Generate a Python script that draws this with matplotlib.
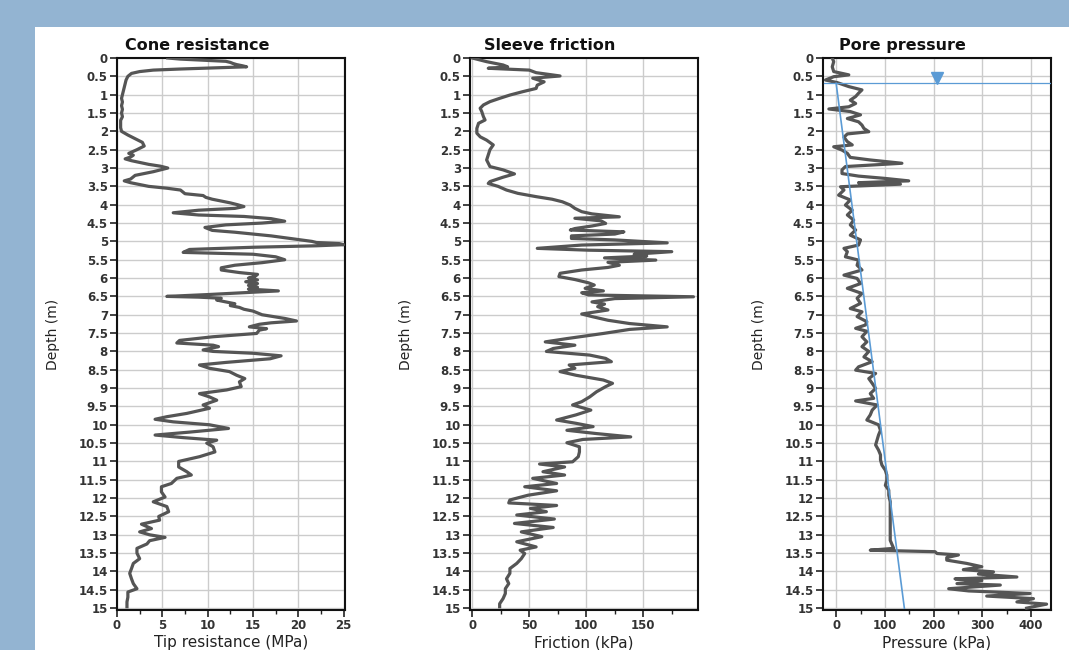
import numpy as np
import matplotlib.pyplot as plt
from matplotlib.patches import Rectangle
from matplotlib.ticker import MultipleLocator, FuncFormatter

# ── data ─────────────────────────────────────────────────────────────────────
cone_depth = [0.0, 0.03, 0.06, 0.09, 0.12, 0.15, 0.18, 0.21, 0.24, 0.27, 0.30, 0.33, 0.37, 0.42,
              0.5, 0.6, 0.7, 0.8, 0.9, 1.0, 1.1, 1.2, 1.3, 1.4, 1.5, 1.6, 1.7, 1.8, 1.9, 2.0,
              2.1, 2.2, 2.3, 2.4, 2.5, 2.6, 2.65, 2.7, 2.75, 2.8, 2.9, 2.95, 3.0, 3.1, 3.2, 3.3,
              3.35, 3.4, 3.5, 3.55, 3.6, 3.7, 3.75, 3.8, 3.85, 3.9, 3.95, 4.0, 4.05, 4.1, 4.15,
              4.22, 4.28, 4.32, 4.38, 4.45, 4.5, 4.55, 4.62, 4.7, 4.75, 4.8, 4.85, 4.9, 4.95,
              5.0, 5.03, 5.06, 5.09, 5.12, 5.16, 5.22, 5.3, 5.35, 5.42, 5.5, 5.58, 5.65, 5.72,
              5.78, 5.85, 5.9, 5.96, 6.0, 6.05, 6.1, 6.15, 6.2, 6.25, 6.3, 6.35, 6.4, 6.45, 6.5,
              6.52, 6.55, 6.6, 6.65, 6.7, 6.75, 6.8, 6.85, 6.9, 6.95, 7.0, 7.1, 7.17, 7.22, 7.26,
              7.33, 7.38, 7.42, 7.51, 7.6, 7.7, 7.77, 7.83, 7.87, 7.96, 8.0, 8.05, 8.12, 8.2,
              8.3, 8.37, 8.46, 8.55, 8.65, 8.74, 8.83, 8.96, 9.05, 9.15, 9.24, 9.33, 9.46, 9.55,
              9.69, 9.78, 9.85, 9.92, 10.0, 10.1, 10.2, 10.28, 10.35, 10.42, 10.5, 10.6, 10.74,
              10.87, 11.0, 11.15, 11.28, 11.37, 11.46, 11.6, 11.69, 11.83, 11.97, 12.1, 12.23,
              12.37, 12.5, 12.6, 12.71, 12.83, 12.92, 13.0, 13.07, 13.16, 13.25, 13.37, 13.5,
              13.65, 13.78, 13.92, 14.05, 14.2, 14.33, 14.47, 14.56, 14.7, 14.83, 14.96]
cone_tip = [5.6, 7, 9.5, 12, 12.5, 12.8, 13.2, 13.8, 14.3, 10.5, 7, 4, 2.5, 1.6,
            1.2, 1.0, 0.9, 0.8, 0.7, 0.6, 0.5, 0.6, 0.5, 0.6, 0.5, 0.6, 0.4, 0.4, 0.4, 0.5,
            1.2, 2.0, 2.8, 3.0, 2.2, 1.3, 1.8, 1.5, 0.9, 1.6, 3.5, 4.8, 5.6, 4.0, 2.0, 1.5,
            0.8, 1.5, 3.5, 5.5, 7.0, 7.5, 9.5, 9.8, 10.5, 11.5, 12.5, 13.3, 14.0, 13.0, 9.0,
            6.2, 9.0, 14.0, 17.0, 18.5, 16.0, 12.0, 9.7, 10.5, 13, 15, 17, 18.5, 20,
            21.5, 22, 24.5, 25, 22, 15, 8, 7.3, 15, 17.5, 18.5, 16, 13, 11.5,
            11.5, 13.5, 15.5, 15.2, 14.5, 15.5, 14.2, 15.5, 14.5, 15.5, 14.5, 17.8, 14, 10, 5.5,
            9, 11.5, 11, 12, 13, 12.5, 13.5, 14, 15, 15.5, 16, 18.5, 19.8, 17, 15.7,
            14.6, 16.5, 15.7, 15.4, 10.6, 6.9, 6.6, 10.6, 11.2, 9.5, 10.6, 15, 18.1, 16.9,
            12, 9.1, 10.2, 12.4, 13.2, 14.1, 13.5, 13.7, 12.1, 9.1, 10.2, 11.0, 9.5, 10.2,
            7.7, 5.5, 4.2, 6.2, 10.2, 12.3, 8.0, 4.2, 7.3, 11.0, 9.9, 10.6, 10.8,
            9.1, 6.8, 6.8, 7.7, 8.2, 6.6, 6.0, 4.9, 4.9, 5.3, 4.0, 5.5,
            5.7, 4.6, 4.7, 2.7, 3.8, 2.5, 3.6, 5.3, 3.6, 3.3, 2.2, 2.2,
            2.5, 1.8, 1.6, 1.4, 1.6, 1.8, 2.2, 1.2, 1.2, 1.1, 1.1]

fric_depth = [0.0, 0.1, 0.19, 0.24, 0.28, 0.33, 0.4, 0.49, 0.55, 0.65, 0.74, 0.83, 0.92, 1.01,
              1.1, 1.19, 1.28, 1.37, 1.46, 1.6, 1.69, 1.78, 1.92, 2.05, 2.15, 2.24, 2.37, 2.5,
              2.65, 2.78, 2.87, 2.96, 3.05, 3.16, 3.25, 3.37, 3.42, 3.5, 3.6, 3.69, 3.78, 3.85,
              3.92, 4.01, 4.1, 4.19, 4.25, 4.33, 4.37, 4.44, 4.51, 4.58, 4.65, 4.69, 4.74, 4.8,
              4.85, 4.92, 4.96, 5.04, 5.1, 5.19, 5.24, 5.28, 5.35, 5.4, 5.45, 5.51, 5.57, 5.65,
              5.71, 5.78, 5.87, 5.96, 6.04, 6.13, 6.19, 6.28, 6.35, 6.4, 6.46, 6.51, 6.56, 6.65,
              6.71, 6.78, 6.87, 6.98, 7.05, 7.15, 7.24, 7.33, 7.4, 7.51, 7.65, 7.74, 7.83, 7.92,
              8.0, 8.1, 8.19, 8.28, 8.37, 8.46, 8.55, 8.65, 8.78, 8.87, 8.96, 9.1, 9.24, 9.37,
              9.46, 9.6, 9.73, 9.87, 9.96, 10.05, 10.15, 10.24, 10.33, 10.4, 10.49, 10.6, 10.74,
              10.87, 11.01, 11.07, 11.15, 11.28, 11.37, 11.46, 11.6, 11.69, 11.8, 11.92, 12.05,
              12.13, 12.2, 12.28, 12.37, 12.46, 12.57, 12.69, 12.8, 12.92, 13.05, 13.19, 13.33,
              13.42, 13.51, 13.65, 13.78, 13.92, 14.05, 14.2, 14.33, 14.47, 14.6, 14.74, 14.88,
              14.96]
fric_kpa = [0, 12.6, 27, 31, 14, 50, 56, 77, 53, 63, 57, 56, 44, 33,
            24, 15.5, 9.8, 6.9, 8.3, 9.8, 11.2, 5.5, 4, 4, 7, 12.6, 18.4, 15.5,
            14, 12.6, 14, 15.5, 27, 37, 27, 15.5, 14, 22.7, 30, 40, 56, 70,
            79, 86, 90, 96, 105, 129, 90, 113, 117, 105, 90, 86, 133, 125,
            87, 87, 125, 171, 96, 57, 102, 175, 142, 153, 116, 161, 119, 129,
            119, 96, 77, 76, 90, 102, 107, 99, 115, 96, 102, 194, 125, 105,
            116, 110, 119, 96, 105, 119, 138, 171, 138, 115, 83, 64, 90, 71,
            65, 103, 117, 122, 85, 90, 77, 91, 115, 123, 117, 109, 103, 96,
            88, 104, 91, 74, 91, 106, 83, 109, 139, 97, 83, 94, 94,
            93, 88, 59, 81, 62, 81, 53, 74, 46, 74, 49, 33,
            32, 74, 51, 65, 39, 72, 37, 71, 43, 61, 39, 56,
            42, 46, 43, 39, 33, 33, 30, 32, 29, 29, 27, 24,
            24]

pore_depth = [0.0, 0.1, 0.24, 0.37, 0.46, 0.51, 0.6, 0.67, 0.78, 0.87, 0.96, 1.05, 1.15, 1.24,
              1.33, 1.39, 1.46, 1.55, 1.65, 1.74, 1.83, 1.92, 2.01, 2.07, 2.16, 2.28, 2.37, 2.42,
              2.51, 2.6, 2.71, 2.78, 2.87, 2.96, 3.05, 3.15, 3.22, 3.28, 3.35, 3.4, 3.44, 3.51,
              3.6, 3.74, 3.87, 4.01, 4.15, 4.28, 4.42, 4.55, 4.69, 4.83, 4.96, 5.1, 5.19, 5.28,
              5.42, 5.51, 5.65, 5.78, 5.92, 6.01, 6.15, 6.28, 6.42, 6.55, 6.69, 6.83, 6.92, 7.05,
              7.19, 7.28, 7.37, 7.45, 7.6, 7.74, 7.87, 8.0, 8.15, 8.28, 8.42, 8.51, 8.6, 8.74,
              8.87, 9.01, 9.15, 9.28, 9.35, 9.46, 9.6, 9.73, 9.87, 10.0, 10.15, 10.28, 10.42,
              10.55, 10.69, 10.82, 10.96, 11.1, 11.24, 11.37, 11.51, 11.65, 11.78, 11.92, 12.1,
              12.28, 12.42, 12.6, 12.78, 12.96, 13.15, 13.28, 13.37, 13.42, 13.46, 13.51, 13.55,
              13.62, 13.69, 13.78, 13.87, 13.95, 14.01, 14.07, 14.15, 14.2, 14.25, 14.33, 14.37,
              14.47, 14.53, 14.6, 14.67, 14.74, 14.83, 14.89, 14.96, 15.0]
pore_kpa = [-8, -5, -8, -5, 26, -5, -22, 2, 26, 53, 46, 40, 29, 40,
            26, -15, 29, 50, 23, 46, 53, 57, 67, 23, 16, 23, 33, -5,
            12, 23, 29, 70, 135, 19, 12, 12, 46, 98, 149, 46, 132, 9,
            16, 5, 29, 19, 33, 23, 36, 29, 40, 29, 50, 46, 16, 23,
            19, 46, 43, 53, 16, 43, 50, 23, 53, 43, 50, 29, 53, 43,
            63, 60, 40, 63, 53, 63, 53, 67, 57, 74, 46, 40, 81, 67,
            74, 81, 70, 77, 40, 84, 74, 70, 63, 87, 91, 87, 84,
            81, 87, 91, 91, 94, 101, 104, 104, 101, 108, 108, 111,
            111, 111, 111, 111, 111, 111, 115, 118, 70, 203, 207, 251,
            227, 227, 268, 299, 261, 323, 292, 371, 244, 299, 248, 337,
            231, 272, 398, 309, 405, 371, 432, 405, 391]

# hydrostatic line and ground water level
hydro_depth = [0.69, 15.0]
hydro_kpa = [0, 140]
gwl_depth = 0.69
gwl_marker_kpa = 207
gwl_marker_depth = 0.55

panels = [
    ("Cone resistance", "Tip resistance (MPa)", cone_tip, cone_depth, (0, 25.15), 5, 2.5, 117),
    ("Sleeve friction", "Friction (kPa)", fric_kpa, fric_depth, (-2, 198), 50, 25, 470),
    ("Pore pressure", "Pressure (kPa)", pore_kpa, pore_depth, (-27, 441), 100, 50, 823),
]

W, H = 1069, 650
trace_col = "#555555"
blue = "#5b9bd5"
text_col = "#222222"

fig = plt.figure(figsize=(W / 100, H / 100), dpi=100)
fig.patch.set_facecolor("#93b4d2")
fig.add_artist(Rectangle((35 / W, 0), 1 - 35 / W, (H - 27) / H,
                         transform=fig.transFigure, facecolor="white",
                         edgecolor="none", zorder=0))

ax_top, ax_bot, ax_w = 58, 610, 228
for title, xlabel, xs, ys, xlim, major, minor, left in panels:
    ax = fig.add_axes([left / W, (H - ax_bot) / H, ax_w / W, (ax_bot - ax_top) / H])
    ax.plot(xs, ys, color=trace_col, lw=2.3, solid_joinstyle="round", zorder=3)

    ax.set_xlim(*xlim)
    ax.set_ylim(15.05, 0)
    ax.xaxis.set_major_locator(MultipleLocator(major))
    ax.xaxis.set_minor_locator(MultipleLocator(minor))
    ax.yaxis.set_major_locator(MultipleLocator(0.5))
    ax.yaxis.set_major_formatter(FuncFormatter(lambda v, p: f"{v:g}"))
    ax.xaxis.set_major_formatter(FuncFormatter(lambda v, p: f"{v:g}"))
    ax.grid(True, which="major", color="#cccccc", lw=1.0, zorder=0)
    ax.set_axisbelow(True)

    for s in ax.spines.values():
        s.set_linewidth(1.5)
        s.set_color("#111111")
    ax.tick_params(which="major", length=5, width=1.2, labelsize=8.5, colors=text_col,
                   top=False, right=False, pad=1.5)
    ax.tick_params(which="minor", length=3, width=1.0, colors=text_col)
    for lab in ax.get_xticklabels() + ax.get_yticklabels():
        lab.set_fontweight("bold")
        lab.set_color("#333333")

    ax.set_title(title, fontsize=11.5, fontweight="bold", color="#111111", x=0.35, pad=6)
    ax.set_ylabel("Depth (m)", fontsize=10, color=text_col)
    ax.yaxis.set_label_coords(-0.25, 0.5)
    ax.set_xlabel(xlabel, fontsize=11, color=text_col)
    ax.xaxis.set_label_coords(0.5, -0.046)

    if title == "Pore pressure":
        ax.plot(hydro_kpa, hydro_depth, color=blue, lw=1.2, zorder=4)
        ax.axhline(gwl_depth, xmin=0.005, color=blue, lw=0.9, zorder=4)
        ax.plot([gwl_marker_kpa], [gwl_marker_depth], marker="v", ms=9,
                color=blue, mec=blue, zorder=5)

fig.savefig("out.png", dpi=100, facecolor=fig.get_facecolor())
